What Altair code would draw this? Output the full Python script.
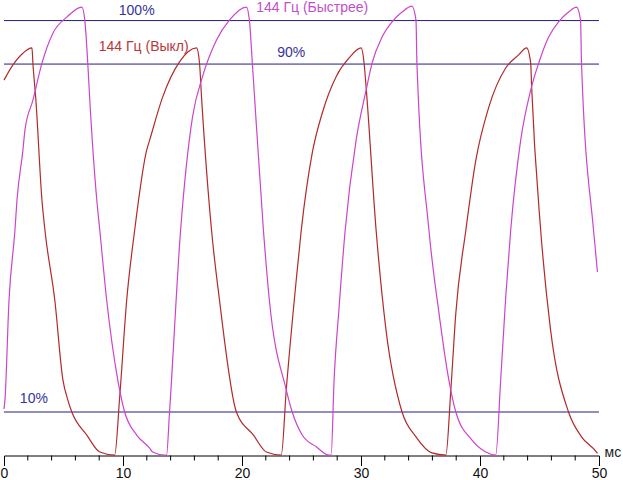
import altair as alt
import pandas as pd

# Series "144 Гц (Быстрее)" (magenta), time in ms, brightness in %
fast_t = [0, 0.08, 0.42, 0.92, 1.09, 1.59, 1.76, 2.43, 3.19, 4.11, 5.28, 6.54,
          6.79, 7.04, 7.21, 7.80, 8.05, 8.63, 9.56, 9.89, 10.14, 11.15, 12.24, 12.49, 13.50,
          13.66, 13.91, 14.84, 15.84, 16.68, 17.85, 18.94, 20.37,
          20.62, 20.87, 21.80, 22.30, 23.72, 24.22, 25.06, 26.24, 27.33,
          27.49, 27.74, 28.16, 28.67, 29.59, 30.43, 30.93, 31.77, 32.61, 33.45, 34.28,
          34.62, 34.70, 35.71, 36.55, 37.38, 37.97, 39.31, 40.49, 41.32,
          41.74, 42.16, 42.58, 43.42, 44.26, 44.93, 45.77, 46.60, 47.44, 48.11,
          48.45, 48.53, 49.54, 49.87]
fast_v = [10.7, 12.8, 35.7, 51.8, 58.7, 70.2, 74.8, 81.7, 90.2, 97.1, 100.8, 103.1,
          100.1, 90.2, 81.7, 58.7, 51.8, 35.7, 17.4, 12.8, 10.0, 4.7, 1.7, 0.8, 0.1,
          0.1, 10.0, 51.8, 77.8, 87.1, 95.5, 100.1, 103.1,
          100.1, 90.2, 51.8, 35.7, 15.1, 10.0, 4.7, 2.0, 0.1,
          0.1, 17.4, 34.1, 51.8, 72.5, 84.0, 90.2, 96.2, 99.7, 101.95, 103.3,
          100.1, 90.2, 51.8, 32.8, 17.4, 10.0, 3.6, 0.8, 0.1,
          17.4, 36.4, 51.8, 72.5, 84.0, 90.2, 96.2, 99.7, 101.95, 103.1,
          100.1, 90.2, 51.8, 42.2]

# Series "144 Гц (Выкл)" (red)
off_t = [0, 0.75, 1.59, 2.35, 2.43, 2.68, 3.19, 3.44, 4.27, 4.95, 5.36, 5.70, 6.96, 8.05, 9.30,
         9.72, 10.31, 10.98, 11.99, 12.24, 13.33, 14.75, 16.18,
         16.43, 16.60, 17.44, 18.11, 19.53, 20.96, 22.05, 23.30,
         23.72, 24.56, 24.98, 25.90, 26.74, 27.91, 29.00, 30.01,
         30.26, 30.43, 31.27, 32.10, 33.45, 34.62, 35.96, 37.13,
         37.55, 37.97, 38.81, 39.65, 40.74, 42.16, 43.25, 43.92,
         44.26, 44.34, 45.10, 45.93, 47.44, 48.53, 49.79, 49.87]
off_v = [86.3, 89.8, 92.5, 93.7, 90.2, 81.7, 58.7, 51.8, 35.7, 17.4, 12.8, 10.0, 4.7, 0.8, 0.1,
         13.4, 35.7, 51.8, 70.2, 72.5, 82.4, 90.5, 93.7,
         90.2, 82.4, 51.8, 35.7, 10.0, 4.7, 0.8, 0.1,
         15.1, 40.4, 51.8, 69.5, 78.7, 87.1, 91.4, 93.7,
         90.2, 84.7, 51.8, 28.9, 10.0, 4.3, 0.6, 0.1,
         15.1, 32.8, 51.8, 67.9, 80.1, 89.1, 92.1, 93.7,
         90.2, 84.7, 51.8, 28.9, 10.0, 4.3, 0.8, 0.5]

levels = [10, 90, 100]
minor_ticks = [2, 4, 6, 8, 12, 14, 16, 18, 22, 24, 26, 28, 32, 34, 36, 38, 42, 44, 46, 48]
major_ticks = [0, 10, 20, 30, 40, 50]

lvl_text = ["100%", "90%", "10%"]
lvl_t = [11.15, 24.14, 2.51]
lvl_v = [102.2, 92.5, 13.0]
off_label, off_label_t, off_label_v = "144 Гц (Выкл)", 11.74, 93.9
fast_label, fast_label_t, fast_label_v = "144 Гц (Быстрее)", 25.9, 102.9

FONT = "Liberation Sans"
x_scale = alt.Scale(domain=[0, 50], nice=False, zero=False)
y_scale = alt.Scale(domain=[0, 104.5], nice=False, zero=False)

x_axis = alt.Axis(
    values=major_ticks,
    tickSize=10,
    tickColor="#000000",
    domainColor="#000000",
    labelColor="#111111",
    labelFont=FONT,
    labelFontSize=14,
    labelPadding=1,
    labelFlush=False,
    labelOverlap=False,
    grid=False,
    title="мс",
    titleFont=FONT,
    titleFontSize=14,
    titleFontWeight="normal",
    titleColor="#222222",
    titleAlign="left",
    titleBaseline="middle",
    titleAnchor="start",
    titleX=600,
    titleY=-3,
)

fast_df = pd.DataFrame({"t": fast_t, "v": fast_v, "i": range(len(fast_t))})
off_df = pd.DataFrame({"t": off_t, "v": off_v, "i": range(len(off_t))})

rules = alt.Chart(pd.DataFrame({"lvl": levels})).mark_rule(color="#1f1f85", strokeWidth=1).encode(
    y=alt.Y("lvl:Q", scale=y_scale, axis=None),
)

minor = alt.Chart(pd.DataFrame({"m": minor_ticks})).mark_rule(color="#000000", strokeWidth=1).encode(
    x=alt.X("m:Q", scale=x_scale, axis=x_axis),
    y=alt.value(454.5),
    y2=alt.value(459.5),
)

off_line = alt.Chart(off_df).mark_line(strokeWidth=1.2, color="#b22a2a", interpolate="monotone").encode(
    x=alt.X("t:Q", scale=x_scale),
    y=alt.Y("v:Q", scale=y_scale, axis=None),
    order="i:Q",
)
fast_line = alt.Chart(fast_df).mark_line(strokeWidth=1.2, color="#cc44cc", interpolate="monotone").encode(
    x=alt.X("t:Q", scale=x_scale),
    y=alt.Y("v:Q", scale=y_scale, axis=None),
    order="i:Q",
)

lvl_txt = alt.Chart(pd.DataFrame({"text": lvl_text, "t": lvl_t, "v": lvl_v})).mark_text(
    font=FONT, fontSize=14, align="center", baseline="middle", color="#34349a"
).encode(x=alt.X("t:Q", scale=x_scale), y=alt.Y("v:Q", scale=y_scale, axis=None), text="text:N")

off_txt = alt.Chart(pd.DataFrame({"text": [off_label], "t": [off_label_t], "v": [off_label_v]})).mark_text(
    font=FONT, fontSize=14, align="center", baseline="middle", color="#b83838"
).encode(x=alt.X("t:Q", scale=x_scale), y=alt.Y("v:Q", scale=y_scale, axis=None), text="text:N")

fast_txt = alt.Chart(pd.DataFrame({"text": [fast_label], "t": [fast_label_t], "v": [fast_label_v]})).mark_text(
    font=FONT, fontSize=14, align="center", baseline="middle", color="#c050c8"
).encode(x=alt.X("t:Q", scale=x_scale), y=alt.Y("v:Q", scale=y_scale, axis=None), text="text:N")

chart = alt.layer(minor, rules, off_line, fast_line, lvl_txt, off_txt, fast_txt).properties(
    width=595,
    height=454.5,
    padding={"left": 4, "top": 1, "right": 24, "bottom": 24.5},
    autosize=alt.AutoSizeParams(type="none"),
    background="#ffffff",
).configure_view(stroke=None)

chart.save("out.html", embed_options={"renderer": "svg", "actions": False})
